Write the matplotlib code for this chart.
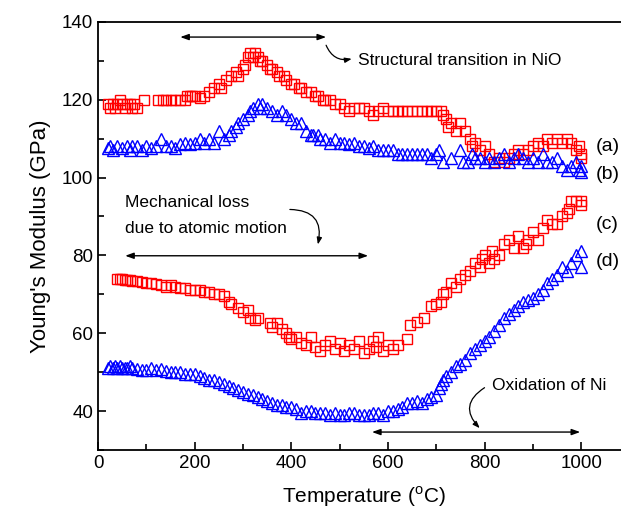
import matplotlib
matplotlib.use("Agg")
import matplotlib.pyplot as plt
from matplotlib.ticker import MultipleLocator

plt.rcParams['font.family'] = ['Liberation Sans', 'DejaVu Sans']
plt.rcParams['mathtext.fontset'] = 'custom'
plt.rcParams['mathtext.rm'] = 'Liberation Sans'

# (a) red squares
a_x = [20, 25, 30, 35, 40, 45, 50, 55, 60, 65, 70, 75, 80, 95,
       125, 135, 140, 150, 160, 170, 180, 185, 190, 195, 200, 210, 220,
       230, 240, 250, 255, 265, 275, 285, 290, 300, 305, 310, 315, 320, 325,
       330, 335, 340, 350, 355, 360, 370, 375, 385, 390, 400, 405, 415, 420,
       430, 440, 450, 455, 465, 470, 480, 490, 500, 510, 520, 530, 540, 550,
       560, 570, 580, 590, 600, 610, 620, 630, 640, 650, 660, 670, 680, 690,
       700, 710, 715, 720, 725, 730, 740, 750, 760, 770, 775, 780, 790, 800,
       810, 820, 830, 840, 850, 860, 870, 880, 890, 900, 910, 920, 930, 940,
       950, 960, 970, 980, 990, 995, 1000, 1000]
a_y = [119, 118, 119, 118, 119, 120, 119, 118, 119, 119, 118, 119, 118, 120,
       120, 120, 120, 120, 120, 120, 120, 121, 121, 121, 121, 120.5, 121,
       122, 123, 124, 123, 125, 126, 127, 126, 128, 129, 131, 132, 131, 132,
       131, 130, 130, 129, 128, 128, 127, 126, 126, 125, 124, 124, 123, 123,
       122, 122, 121, 121, 120, 120, 120, 119, 119, 118, 117, 118, 118, 118,
       117, 116, 117, 118, 117, 117, 117, 117, 117, 117, 117, 117, 117, 117,
       117, 117, 116, 115, 113, 114, 112, 114, 112, 110, 108, 109, 107, 108,
       106, 104, 105, 104, 105, 106, 107, 106, 107, 108, 109, 108, 110, 109,
       110, 109, 110, 109, 107, 108, 106, 105]

# (b) blue triangles
b_x = [20, 25, 30, 40, 50, 60, 65, 70, 80, 90, 100, 110, 120, 130, 140, 150,
       160, 170, 180, 190, 200, 210, 220, 230, 240, 250, 260, 270, 275, 285,
       290, 300, 310, 315, 320, 330, 335, 340, 350, 360, 370, 380, 390, 400,
       410, 420, 430, 440, 445, 455, 460, 470, 480, 490, 500, 510, 520, 530,
       540, 550, 560, 570, 580, 590, 600, 610, 620, 630, 640, 650, 660, 670,
       680, 690, 700, 705, 715, 730, 750, 755, 765, 775, 780, 790, 800, 810,
       820, 830, 840, 850, 860, 870, 880, 890, 900, 910, 920, 930, 940, 950,
       960, 970, 980, 990, 995, 1000, 1000]
b_y = [107.5, 108, 107, 108, 107.5, 108, 107, 108, 108, 107, 108, 107.5, 108,
       110, 108, 108, 107.5, 108.5, 109, 108.5, 109, 110, 109, 110, 109, 112,
       110, 111, 112, 113, 114, 115, 116, 117, 118, 119, 118, 119, 118, 117,
       116, 117, 116, 115, 114, 114, 112, 111, 111, 111, 110, 110, 109, 110,
       109, 109, 108.5, 109, 108, 108, 107.5, 108, 107, 107, 107, 107, 106,
       106, 106, 106, 106, 106, 106, 105, 106, 107, 104, 105, 107, 104, 104,
       106, 105, 105, 104, 105, 104, 105, 106, 104, 105, 106, 105, 104, 105,
       104, 106, 104, 104, 105, 103, 102, 103, 104, 102, 103, 101.5]

# (c) red squares
c_x = [40, 45, 50, 55, 60, 65, 70, 80, 90, 100, 110, 120, 130, 140, 150, 160,
       170, 180, 190, 200, 210, 220, 230, 240, 250, 260, 270, 275, 290, 300,
       310, 315, 325, 330, 355, 360, 370, 380, 390, 395, 400, 410, 420, 430,
       440, 450, 460, 470, 480, 490, 500, 510, 520, 530, 540, 550, 560, 570,
       575, 580, 590, 600, 610, 620, 640, 645, 660, 675, 690, 700, 710, 715,
       720, 730, 740, 750, 760, 770, 780, 790, 795, 800, 810, 815, 820, 830,
       840, 850, 860, 870, 880, 885, 890, 900, 910, 920, 930, 940, 950, 960,
       970, 975, 980, 990, 1000, 1000]
c_y = [74, 74, 74, 73.8, 73.7, 73.6, 73.5, 73.4, 73.2, 73, 72.8, 72.7, 72.5,
       72, 72.3, 72, 71.7, 71.5, 71, 71.2, 71, 70.5, 70.5, 70, 70, 69.5, 68,
       67.5, 66.5, 65.5, 66, 64, 63.5, 63.8, 62.5, 61.5, 62.5, 61, 60, 59,
       58.5, 59, 57.5, 57, 59, 56.5, 55.5, 57, 58, 56, 57.5, 55.5, 57, 56, 58,
       55, 56, 58, 56.5, 59, 55.5, 57, 56, 57, 58.5, 62, 63, 64, 67, 67.5, 68,
       70, 70.5, 73, 72, 74, 75, 76, 78, 77, 79, 80, 78, 81, 79, 80, 83, 84,
       82, 85, 82, 83, 84, 86, 84, 87, 89, 88, 88, 90, 91, 92, 94, 94, 93, 94]

# (d) blue triangles
d_x = [20, 25, 30, 35, 40, 45, 50, 55, 60, 65, 70, 80, 90, 100, 110, 120, 130,
       140, 150, 160, 170, 180, 190, 200, 210, 220, 230, 240, 250, 260, 270,
       280, 290, 300, 310, 320, 330, 340, 350, 360, 370, 380, 390, 400, 410,
       420, 430, 440, 450, 460, 470, 480, 490, 500, 510, 520, 530, 540, 550,
       560, 570, 580, 590, 600, 610, 620, 630, 640, 650, 660, 670, 680, 690,
       700, 705, 710, 715, 720, 730, 740, 750, 760, 770, 780, 790, 800, 810,
       820, 830, 840, 850, 860, 870, 880, 890, 900, 910, 920, 930, 940, 950,
       960, 970, 980, 990, 1000, 1000]
d_y = [51, 51.5, 51, 51.5, 51, 51.5, 51, 51, 51, 51.5, 51, 50.8, 50.5, 50.5,
       51, 50.5, 50.8, 50.3, 50, 50, 50, 49.5, 49.5, 49.5, 49, 48.5, 48, 48,
       47.5, 47, 46.5, 46, 45.5, 45, 44.5, 44, 43.5, 43, 42.5, 42, 41.5, 41.5,
       41, 41, 40.5, 39.5, 40, 40, 39.5, 39.5, 39.5, 39, 39.5, 39, 39, 39.5,
       39.5, 39, 39, 39, 39.5, 39.5, 39, 40, 40, 40.5, 41, 42, 42, 42.5, 42,
       43, 43.5, 44, 46, 47, 48, 49, 50, 51.5, 52, 53, 55, 56, 57, 58, 59,
       60.5, 62, 64, 65, 66, 67, 68, 68.5, 69, 70, 71, 73, 74, 75, 77, 76, 78,
       80, 81, 77]

fig = plt.figure(figsize=(6.21, 5.09), dpi=100)
ax = fig.add_axes([0.158, 0.116, 0.8556, 0.841])

sq = dict(marker='s', ms=7.8, mfc='none', mew=1.0, ls='none', color='#ff0000')
tr = dict(marker='^', ms=8.7, mfc='none', mew=1.0, ls='none', color='#0000ff')
ax.plot(a_x, a_y, **sq)
ax.plot(b_x, b_y, **tr)
ax.plot(c_x, c_y, **sq)
ax.plot(d_x, d_y, **tr)

ax.set_xlim(0, 1100)
ax.set_ylim(30, 140)
ax.xaxis.set_major_locator(MultipleLocator(200))
ax.xaxis.set_minor_locator(MultipleLocator(100))
ax.yaxis.set_major_locator(MultipleLocator(20))
ax.yaxis.set_minor_locator(MultipleLocator(10))
ax.set_yticks([40, 60, 80, 100, 120, 140])
ax.tick_params(which='both', direction='in', width=1.2, labelsize=13.5,
               top=False, right=False)
ax.tick_params(which='major', length=6)
ax.tick_params(which='minor', length=4)
for s in ax.spines.values():
    s.set_linewidth(1.3)
ax.spines['right'].set_visible(False)

ax.set_xlabel(r'Temperature ($^{\mathregular{o}}$C)', fontsize=15, labelpad=9)
ax.set_ylabel("Young's Modulus (GPa)", fontsize=16, labelpad=8)

dbl = dict(arrowstyle='<|-|>,head_length=0.5,head_width=0.18', color='black', lw=1.0,
           shrinkA=0, shrinkB=0)
ax.annotate('', xy=(170, 136.1), xytext=(472, 136.1), arrowprops=dbl)
ax.annotate('', xy=(56, 79.9), xytext=(559, 79.9), arrowprops=dbl)
ax.annotate('', xy=(567, 34.6), xytext=(998, 34.6), arrowprops=dbl)

crv = dict(arrowstyle='-|>,head_length=0.4,head_width=0.15', color='black', lw=0.9,
           shrinkA=0, shrinkB=0)
ax.annotate('', xy=(525, 130.5), xytext=(472, 134.0),
            arrowprops=dict(crv, connectionstyle='arc3,rad=0.4'))
ax.annotate('', xy=(455, 82.8), xytext=(397, 91.8),
            arrowprops=dict(crv, connectionstyle='arc3,rad=-0.6'))
ax.annotate('', xy=(790, 35.6), xytext=(800, 46.0),
            arrowprops=dict(crv, connectionstyle='arc3,rad=0.6'))

ax.text(538, 130.2, 'Structural transition in NiO', fontsize=12.5, va='center', ha='left')
ax.text(56, 93.7, 'Mechanical loss', fontsize=12.5, va='center', ha='left')
ax.text(56, 87.0, 'due to atomic motion', fontsize=12.5, va='center', ha='left')
ax.text(816, 46.6, 'Oxidation of Ni', fontsize=12.5, va='center', ha='left')

for lab, yv in [('(a)', 108), ('(b)', 100.7), ('(c)', 88), ('(d)', 78.5)]:
    ax.text(1030, yv, lab, fontsize=14, va='center', ha='left')

fig.savefig('out.png', dpi=100)
